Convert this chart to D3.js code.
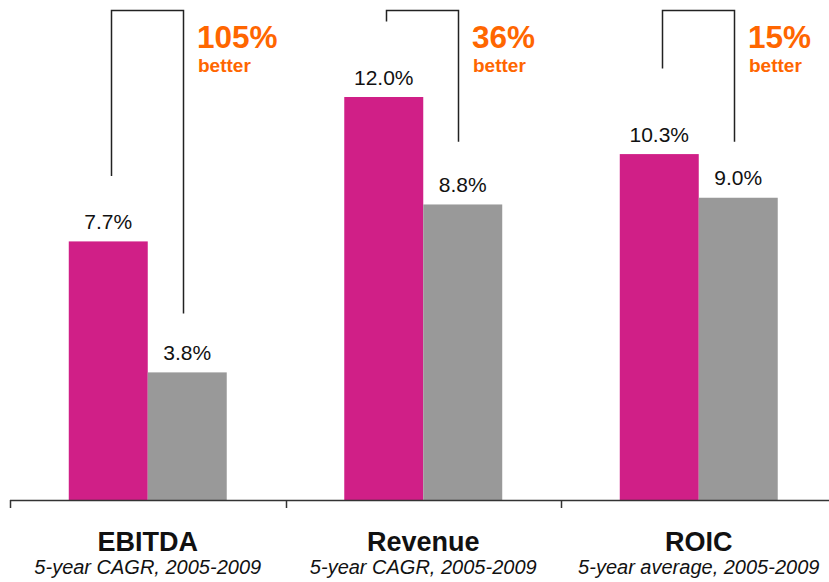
<!DOCTYPE html>
<html>
<head>
<meta charset="utf-8">
<script src="https://cdn.jsdelivr.net/npm/d3@7/dist/d3.min.js"></script>
<style>
  html, body { margin: 0; padding: 0; background: #fff; }
  svg { display: block; font-family: "Liberation Sans", Arial, sans-serif; }
</style>
</head>
<body>
<svg id="chart" width="829" height="582"></svg>
<script>
// ---- data ----
const categories = ["EBITDA", "Revenue", "ROIC"];
const subtitles = ["5-year CAGR, 2005-2009", "5-year CAGR, 2005-2009", "5-year average, 2005-2009"];
const seriesNames = ["Company", "Peers"];
const companyValues = [7.7, 12.0, 10.3];
const peerValues = [3.8, 8.8, 9.0];
const valueLabels = [["7.7%", "3.8%"], ["12.0%", "8.8%"], ["10.3%", "9.0%"]];
const betterPct = ["105%", "36%", "15%"];
const betterWord = ["better", "better", "better"];
// bracket extents, in value units
const bracketTop = 14.6;
const bracketLeftEnd = [9.65, 14.25, 12.85];
const bracketRightEnd = [5.55, 10.67, 10.67];

// ---- layout ----
const svg = d3.select("#chart");
const baseY = 500;
const colors = ["#D01F87", "#999999"];

const x = d3.scaleBand().domain(categories).range([10, 836.5]).padding(0);
const xs = d3.scaleBand().domain(seriesNames).range([0, x.bandwidth()]).paddingInner(0).paddingOuter(0.744);
const y = d3.scaleLinear().domain([0, 12]).range([baseY, 97]);

const data = categories.map((c, i) => ({
  cat: c, i,
  vals: [companyValues[i], peerValues[i]]
}));

const g = svg.append("g");

// bars
data.forEach(d => {
  d.vals.forEach((v, j) => {
    g.append("rect")
      .attr("x", x(d.cat) + xs(seriesNames[j]))
      .attr("y", y(v))
      .attr("width", xs.bandwidth())
      .attr("height", y(0) - y(v))
      .attr("fill", colors[j]);
    g.append("text")
      .attr("x", x(d.cat) + xs(seriesNames[j]) + xs.bandwidth() / 2)
      .attr("y", y(v) - 12.5)
      .attr("text-anchor", "middle")
      .attr("font-size", 21)
      .attr("fill", "#111")
      .text(valueLabels[d.i][j]);
  });
});

// brackets
data.forEach(d => {
  const cx = x(d.cat) + x.bandwidth() / 2;
  const lx = Math.round(cx - 37) + 0.5;
  const rx = Math.round(cx + 35) + 0.5;
  const path = d3.path();
  path.moveTo(lx, y(bracketLeftEnd[d.i]));
  path.lineTo(lx, Math.round(y(bracketTop)) + 0.5);
  path.lineTo(rx, Math.round(y(bracketTop)) + 0.5);
  path.lineTo(rx, y(bracketRightEnd[d.i]));
  g.append("path")
    .attr("d", path.toString())
    .attr("fill", "none")
    .attr("stroke", "#222")
    .attr("stroke-width", 1.5);
  g.append("text")
    .attr("x", rx + 13.5)
    .attr("y", 47.5)
    .attr("font-size", 31.5)
    .attr("font-weight", "bold")
    .attr("fill", "#FF6600")
    .text(betterPct[d.i]);
  g.append("text")
    .attr("x", rx + 14.5)
    .attr("y", 71.5)
    .attr("font-size", 19)
    .attr("font-weight", "bold")
    .attr("fill", "#FF6600")
    .text(betterWord[d.i]);
});

// axis
const axisG = svg.append("g");
const [r0, r1] = x.range();
axisG.append("line")
  .attr("x1", r0).attr("x2", r1)
  .attr("y1", baseY + 0.5).attr("y2", baseY + 0.5)
  .attr("stroke", "#333").attr("stroke-width", 1.5);
const tickXs = categories.map(c => x(c)).concat([r1]);
axisG.selectAll("line.tick").data(tickXs).enter().append("line")
  .attr("class", "tick")
  .attr("x1", d => Math.round(d) + 0.5).attr("x2", d => Math.round(d) + 0.5)
  .attr("y1", baseY).attr("y2", baseY + 8)
  .attr("stroke", "#333").attr("stroke-width", 1.5);

// category labels
data.forEach(d => {
  const cx = x(d.cat) + x.bandwidth() / 2;
  axisG.append("text")
    .attr("x", cx).attr("y", 550.5)
    .attr("text-anchor", "middle")
    .attr("font-size", 27)
    .attr("font-weight", "bold")
    .attr("fill", "#111")
    .text(d.cat);
  axisG.append("text")
    .attr("x", cx).attr("y", 574)
    .attr("text-anchor", "middle")
    .attr("font-size", 20)
    .attr("font-style", "italic")
    .attr("fill", "#111")
    .text(subtitles[d.i]);
});
</script>
</body>
</html>
